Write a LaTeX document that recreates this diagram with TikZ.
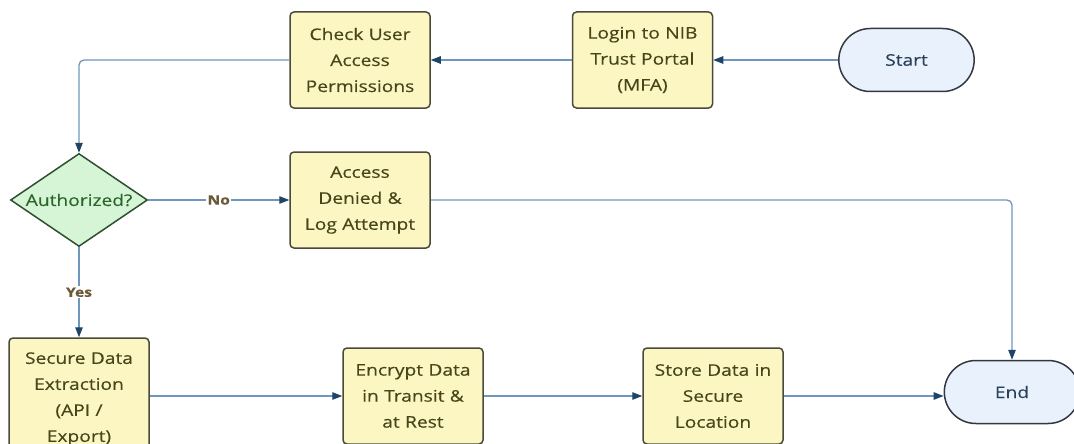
\documentclass[tikz,border=0pt]{standalone}
\usepackage{fontspec}
\setmainfont{Open Sans}[FakeStretch=1.2, FakeBold=0.4]
\usetikzlibrary{shapes.geometric,shapes.misc,arrows.meta}

\definecolor{boxfill}{HTML}{FCF7C2}
\definecolor{boxline}{HTML}{4A4A3C}
\definecolor{boxtext}{HTML}{46461A}
\definecolor{termfill}{HTML}{E8F1FC}
\definecolor{termline}{HTML}{333840}
\definecolor{termtext}{HTML}{2A4058}
\definecolor{decfill}{HTML}{D6F5D6}
\definecolor{decline}{HTML}{2F4F2F}
\definecolor{dectext}{HTML}{2B662B}
\definecolor{flowcol}{HTML}{6E97BD}
\definecolor{tipcol}{HTML}{1E4468}
\definecolor{lblcol}{HTML}{6B5A3A}

\tikzset{
  txt/.style={font=\fontsize{16}{26}\selectfont},
  process/.style={txt, draw=boxline, fill=boxfill, line width=1.5pt,
    rounded corners=4pt, minimum width=140pt, minimum height=96pt,
    text width=132pt, align=center, text=boxtext, inner sep=0pt},
  terminal/.style={txt, rounded rectangle, draw=termline, fill=termfill,
    line width=1.5pt, minimum width=142pt, minimum height=63pt,
    text=termtext},
  decision/.style={diamond, draw=decline, fill=decfill, line width=1.5pt,
    minimum width=137pt, minimum height=93pt, inner sep=0pt},
  flow/.style={draw=flowcol, line width=1.3pt,
    -{Triangle[length=10pt,width=7.5pt,color=tipcol]}},
  branch/.style={font=\fontsize{13}{15}\selectfont\bfseries, text=lblcol,
    fill=white, inner sep=1.5pt}
}

\begin{document}
\begin{tikzpicture}[x=1pt, y=-1pt]
\useasboundingbox (0,0) rectangle (1074,444);
\clip (0,0) rectangle (1074,444);

% top row
\node[terminal] (start) at (906.5,60) {Start};
\node[process] (login) at (642.5,60) {Login to NIB\\Trust Portal\\(MFA)};
\node[process] (check) at (360,60) {Check User\\Access\\Permissions};

% middle row
\node[decision, label={[txt, text=dectext]center:Authorized?}] (auth) at (79,200) {};
\node[process] (deny) at (360,200) {Access\\Denied \&\\Log Attempt};

% bottom row
\node[process, minimum height=122pt] (sec) at (79,399) {Secure Data\\Extraction\\(API /\\Export)};
\node[process] (enc) at (413,396) {Encrypt Data\\in Transit \&\\at Rest};
\node[process] (sto) at (713,396) {Store Data in\\Secure\\Location};
\node[terminal] (end) at (1012,392) {End};

% connectors
\draw[flow] (start) -- (login);
\draw[flow] (login) -- (check);
\draw[flow, rounded corners=5pt] (check.west) -| (auth.north);
\draw[flow] (auth.east) -- node[branch] {No} (deny.west);
\draw[flow] (auth.south) -- node[branch] {Yes} (sec.north);
\draw[flow, rounded corners=5pt] (deny.east) -| (end.north);
\draw[flow] (sec.east |- enc.west) -- (enc.west);
\draw[flow] (enc) -- (sto);
\draw[flow] (sto.east) -- (sto.east -| end.west);
\end{tikzpicture}
\end{document}
